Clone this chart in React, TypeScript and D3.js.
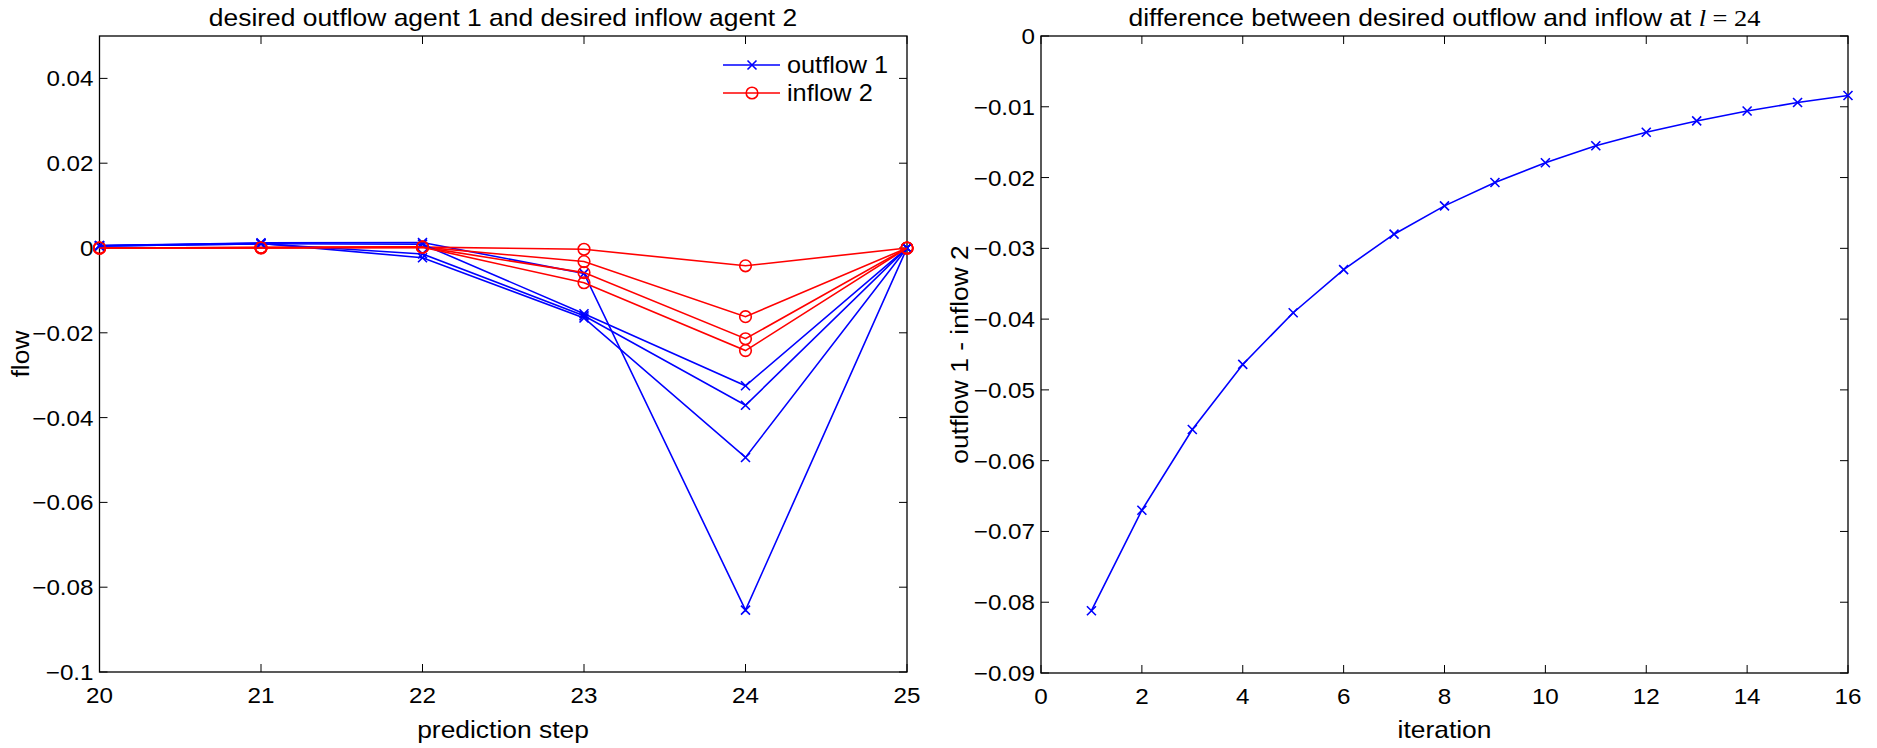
import React, { useEffect, useRef } from "react";
import * as d3 from "d3";

// left panel: prediction steps and the four shown iterations (1, 6, 11, 16)
const predictionSteps = [20, 21, 22, 23, 24, 25];
const outflowIter1 = [0.0006, 0.0012, 0.0013, -0.006, -0.0854, 0];
const outflowIter6 = [0.0005, 0.0011, -0.0023, -0.0165, -0.0494, 0];
const outflowIter11 = [0.0005, 0.001, -0.0014, -0.016, -0.0371, 0];
const outflowIter16 = [0.0005, 0.001, 0.0009, -0.0155, -0.0325, 0];
const inflowIter1 = [0, 0.0001, 0.0002, -0.0003, -0.0042, 0];
const inflowIter6 = [0, 0.0001, 0.0002, -0.0032, -0.0162, 0];
const inflowIter11 = [0, 0.0001, 0.0002, -0.0058, -0.0214, 0];
const inflowIter16 = [0, 0, 0.0002, -0.0082, -0.0242, 0];

const leftYTicks = [-0.1, -0.08, -0.06, -0.04, -0.02, 0, 0.02, 0.04];

// right panel: difference at l = 24 per iteration
const iterations = [1, 2, 3, 4, 5, 6, 7, 8, 9, 10, 11, 12, 13, 14, 15, 16];
const difference = [
  -0.0812, -0.067, -0.0556, -0.0464, -0.0391, -0.033, -0.028, -0.024,
  -0.0207, -0.0179, -0.0155, -0.0136, -0.012, -0.0106, -0.0094, -0.0084,
];
const rightXTicks = [0, 2, 4, 6, 8, 10, 12, 14, 16];
const rightYTicks = [-0.09, -0.08, -0.07, -0.06, -0.05, -0.04, -0.03, -0.02, -0.01, 0];

const FONT = "'Liberation Sans', Arial, Helvetica, sans-serif";
const BLUE = "#0000ff";
const RED = "#ff0000";
// matlab's helvetica comes out a bit wider than liberation sans
const STRETCH = 1.1;

const fmt = (v) => {
  if (Math.abs(v) < 1e-9) return "0";
  const s = String(+v.toFixed(3));
  return s.replace("-", "\u2212");
};

const addText = (g, x, y, str, size, anchor = "middle", rotate = 0) =>
  g.append("text")
    .attr("transform", `translate(${x},${y}) rotate(${rotate}) scale(${STRETCH},1)`)
    .attr("text-anchor", anchor)
    .style("font-family", FONT)
    .style("font-size", `${size}px`)
    .text(str);

const drawFrame = (g, x, y, xTicks, yTicks) => {
  const [x0, x1] = x.range();
  const [y1, y0] = y.range();
  const tick = 8;

  g.append("rect")
    .attr("x", x0).attr("y", y0)
    .attr("width", x1 - x0).attr("height", y1 - y0)
    .attr("fill", "none").attr("stroke", "#000").attr("stroke-width", 1.3);

  xTicks.forEach((t) => {
    const px = x(t);
    g.append("line").attr("x1", px).attr("x2", px).attr("y1", y1).attr("y2", y1 - tick)
      .attr("stroke", "#000");
    g.append("line").attr("x1", px).attr("x2", px).attr("y1", y0).attr("y2", y0 + tick)
      .attr("stroke", "#000");
    addText(g, px, y1 + 31, fmt(t), 22);
  });

  yTicks.forEach((t) => {
    const py = y(t);
    g.append("line").attr("x1", x0).attr("x2", x0 + tick).attr("y1", py).attr("y2", py)
      .attr("stroke", "#000");
    g.append("line").attr("x1", x1).attr("x2", x1 - tick).attr("y1", py).attr("y2", py)
      .attr("stroke", "#000");
    addText(g, x0 - 6, py + 8, fmt(t), 22, "end");
  });
};

const drawCross = (g, px, py, color) => {
  const s = 4.5;
  g.append("path")
    .attr("d", `M${px - s},${py - s}L${px + s},${py + s}M${px - s},${py + s}L${px + s},${py - s}`)
    .attr("stroke", color).attr("stroke-width", 1.6).attr("fill", "none");
};

const drawCircle = (g, px, py, color) => {
  g.append("circle").attr("cx", px).attr("cy", py).attr("r", 5.8)
    .attr("stroke", color).attr("stroke-width", 1.6).attr("fill", "none");
};

const App = () => {
  const ref = useRef(null);

  useEffect(() => {
    d3.select(ref.current).select("svg").remove();

    const svg = d3.select(ref.current)
      .append("svg")
      .attr("width", 1877)
      .attr("height", 748)
      .style("display", "block")
      .style("background", "#fff");

    // ---------- left panel ----------
    const xl = d3.scaleLinear().domain([20, 25]).range([99.5, 907]);
    const yl = d3.scaleLinear().domain([-0.1, 0.05]).range([672, 36]);
    const left = svg.append("g");
    drawFrame(left, xl, yl, predictionSteps, leftYTicks);

    const lineL = d3.line().x((d, i) => xl(predictionSteps[i])).y((d) => yl(d));
    const pairs = [
      [outflowIter1, inflowIter1],
      [outflowIter6, inflowIter6],
      [outflowIter11, inflowIter11],
      [outflowIter16, inflowIter16],
    ];
    pairs.forEach(([out, inn]) => {
      left.append("path").attr("d", lineL(out)).attr("fill", "none")
        .attr("stroke", BLUE).attr("stroke-width", 1.6);
      out.forEach((v, i) => drawCross(left, xl(predictionSteps[i]), yl(v), BLUE));
      left.append("path").attr("d", lineL(inn)).attr("fill", "none")
        .attr("stroke", RED).attr("stroke-width", 1.6);
      inn.forEach((v, i) => drawCircle(left, xl(predictionSteps[i]), yl(v), RED));
    });

    // legend (no box)
    const legend = left.append("g");
    [["outflow 1", BLUE, "x"], ["inflow 2", RED, "o"]].forEach(([label, color, m], i) => {
      const cy = 65 + i * 28;
      legend.append("line").attr("x1", 723).attr("x2", 780).attr("y1", cy).attr("y2", cy)
        .attr("stroke", color).attr("stroke-width", 1.6);
      if (m === "x") drawCross(legend, 752, cy, color);
      else drawCircle(legend, 752, cy, color);
      addText(legend, 787, cy + 8, label, 23, "start");
    });

    addText(left, 503, 26, "desired outflow agent 1 and desired inflow agent 2", 24);
    addText(left, 503, 738, "prediction step", 24);
    addText(left, 29, (36 + 672) / 2, "flow", 24, "middle", -90);

    // ---------- right panel ----------
    const xr = d3.scaleLinear().domain([0, 16]).range([1041, 1848]);
    const yr = d3.scaleLinear().domain([-0.09, 0]).range([673, 36]);
    const right = svg.append("g");
    drawFrame(right, xr, yr, rightXTicks, rightYTicks);

    const lineR = d3.line().x((d, i) => xr(iterations[i])).y((d) => yr(d));
    right.append("path").attr("d", lineR(difference)).attr("fill", "none")
      .attr("stroke", BLUE).attr("stroke-width", 1.6);
    difference.forEach((v, i) => drawCross(right, xr(iterations[i]), yr(v), BLUE));

    const title = addText(right, (1041 + 1848) / 2, 26, "", 24);
    title.append("tspan").text("difference between desired outflow and inflow at ");
    title.append("tspan").style("font-family", "'Liberation Serif', serif")
      .style("font-style", "italic").text("l");
    title.append("tspan").style("font-family", "'Liberation Serif', serif").text(" = 24");

    addText(right, (1041 + 1848) / 2, 738, "iteration", 24);
    addText(right, 968, (36 + 673) / 2, "outflow 1 - inflow 2", 24, "middle", -90);
  }, []);

  return <div ref={ref} style={{ position: "absolute", left: 0, top: 0 }}></div>;
};

export default App;
